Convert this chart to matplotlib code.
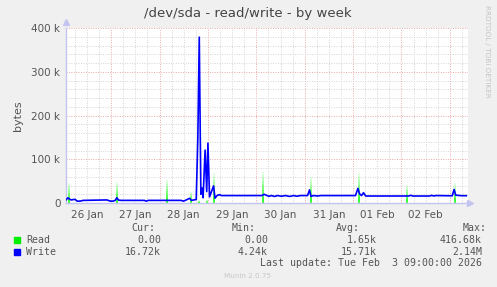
import numpy as np
import matplotlib
matplotlib.use("Agg")
from matplotlib import pyplot as plt
from matplotlib.ticker import FixedLocator

# hours since 26 Jan 00:00
write_hours = [1.6, 2.6, 3.3, 4.1, 6.1, 7.1, 8.6, 10.1, 21.9, 23.5, 25.0, 26.0, 26.8, 27.7, 29.0,
               40.4, 41.4, 42.4, 58.6, 59.8, 60.8, 62.9, 63.8, 66.2, 67.0, 67.7, 68.5, 69.1, 69.6,
               70.6, 71.4, 72.0, 72.8, 74.8, 75.5, 76.5, 77.7, 78.7, 98.9, 99.8, 102.2, 103.5,
               105.0, 106.5, 108.5, 110.5, 112.5, 114.5, 116.0, 117.9, 121.4, 122.4, 123.1, 124.4,
               126.4, 127.9, 145.2, 146.4, 147.2, 148.2, 149.2, 150.2, 171.6, 172.6, 173.6, 182.0,
               183.0, 184.0, 185.0, 193.2, 194.1, 194.9, 196.9, 197.9, 200.2]
write_k = [7, 12, 9, 7, 8.4, 4.3, 4.3, 6, 7, 4.3, 4.3, 6, 12, 6.5, 6,
           6, 4.3, 6, 6, 4.3, 6, 10.7, 6, 8, 150, 379, 20, 34, 12,
           121, 26, 137, 14, 39, 11, 17, 19, 17, 17, 20, 15.3, 17,
           15, 17, 15.5, 17, 15, 17, 15.5, 17, 17, 30, 15, 17,
           16, 17, 17, 33.5, 21, 17, 23.5, 16, 16, 17.5, 16, 16,
           17.5, 16, 17, 16.5, 31, 18, 17, 16.7, 16.7]

read_hours = [3.3, 27.1, 51.5, 63.4, 67.7, 71.6, 75.0, 99.2, 123.0, 146.9, 170.7, 194.6]
read_k = [46, 49, 53, 26, 6, 8, 69, 72, 60, 68, 41, 46]

day_labels = ["26 Jan", "27 Jan", "28 Jan", "29 Jan", "30 Jan", "31 Jan", "01 Feb", "02 Feb"]
y_labels = ["0", "100 k", "200 k", "300 k", "400 k"]

legend_rows = [("Read", "#00ee00", "0.00", "0.00", "1.65k", "416.68k"),
               ("Write", "#0000ff", "16.72k", "4.24k", "15.71k", "2.14M")]

W, H = 497, 287
fig = plt.figure(figsize=(W / 100, H / 100), dpi=100)
fig.patch.set_facecolor("#f0f0f0")
ax = fig.add_axes([66 / W, 1 - 203 / H, 402 / W, 175 / H])
ax.set_facecolor("white")

# grid
red = "#e8a8a8"
grey = "#d4d4d4"
for h in range(0, 204, 6):
    if 1.6 < h < 201:
        ax.axvline(h, color=red if h % 24 == 0 else grey, lw=0.7,
                   ls=(0, (1, 1.5)), zorder=1)
for v in range(20, 401, 20):
    ax.axhline(v * 1000, color=red if v % 100 == 0 else grey, lw=0.7,
               ls=(0, (1, 1.5)), zorder=1)

# read spikes with fading tops
rh = np.array(read_hours)
rv = np.array(read_k) * 1000
n = 10
for i in range(n):
    lo = rv * i / n
    hi = rv * (i + 1) / n
    a = 1.0 if i < 2 else max(0.15, 1.0 - (i - 1) * 0.11)
    ax.vlines(rh, lo, hi, color="#00ff00", alpha=a, lw=1.1, zorder=2)

ax.plot(write_hours, np.array(write_k) * 1000, color="#0000ff", lw=1.2, zorder=3)

ax.set_xlim(1.6, 201)
ax.set_ylim(0, 400000)

ax.set_yticks([0, 100000, 200000, 300000, 400000])
ax.set_yticklabels(y_labels)
ax.xaxis.set_major_locator(FixedLocator([12 + 24 * i for i in range(len(day_labels))]))
ax.set_xticklabels(day_labels)
ax.tick_params(axis="both", length=0, labelsize=7.5, labelcolor="#555555", pad=4)
ax.tick_params(axis="x", pad=5)

for s in ["top", "right"]:
    ax.spines[s].set_visible(False)
for s in ["left", "bottom"]:
    ax.spines[s].set_color("#c4c4f0")
    ax.spines[s].set_linewidth(1)
ax.plot([0], [1.035], marker="^", ms=4, color="#c4c4f0", transform=ax.transAxes,
        clip_on=False)
ax.plot([1.006], [0], marker=">", ms=4, color="#c4c4f0", transform=ax.transAxes,
        clip_on=False)

ax.set_ylabel("bytes", fontsize=8, color="#555555", labelpad=6)

def fx(x):
    return x / W

def fy(y):
    return 1 - y / H

fig.text(fx(248), fy(13), "/dev/sda - read/write - by week", ha="center", va="center",
         fontsize=9.5, color="#444444")
fig.text(fx(487), fy(5), "RRDTOOL / TOBI OETIKER", rotation=270, ha="center", va="top",
         fontsize=5.2, color="#c4c4c4")

mono = "DejaVu Sans Mono"
fs = 7.1
col_x = [161, 268, 377, 482]
head_x = [155, 256, 360, 487]
for x, t in zip(head_x, ["Cur:", "Min:", "Avg:", "Max:"]):
    fig.text(fx(x), fy(228), t, ha="right", va="center", family=mono, fontsize=fs,
             color="#555555")
for r, (name, c, *vals) in enumerate(legend_rows):
    y = 240 + 12 * r
    fig.patches.append(plt.Rectangle((fx(14), fy(y + 3)), 6 / W, 6 / H, color=c,
                                     transform=fig.transFigure, figure=fig))
    fig.text(fx(26), fy(y), name, ha="left", va="center", family=mono, fontsize=fs,
             color="#555555")
    for x, t in zip(col_x, vals):
        fig.text(fx(x), fy(y), t, ha="right", va="center", family=mono, fontsize=fs,
                 color="#555555")
fig.text(fx(482), fy(263.5), "Last update: Tue Feb  3 09:00:00 2026", ha="right",
         va="center", family=mono, fontsize=fs, color="#555555")
fig.text(fx(248), fy(276), "Munin 2.0.75", ha="center", va="center", fontsize=5.2,
         color="#c8c8c8")

fig.savefig("out.png", dpi=100, facecolor=fig.get_facecolor())
